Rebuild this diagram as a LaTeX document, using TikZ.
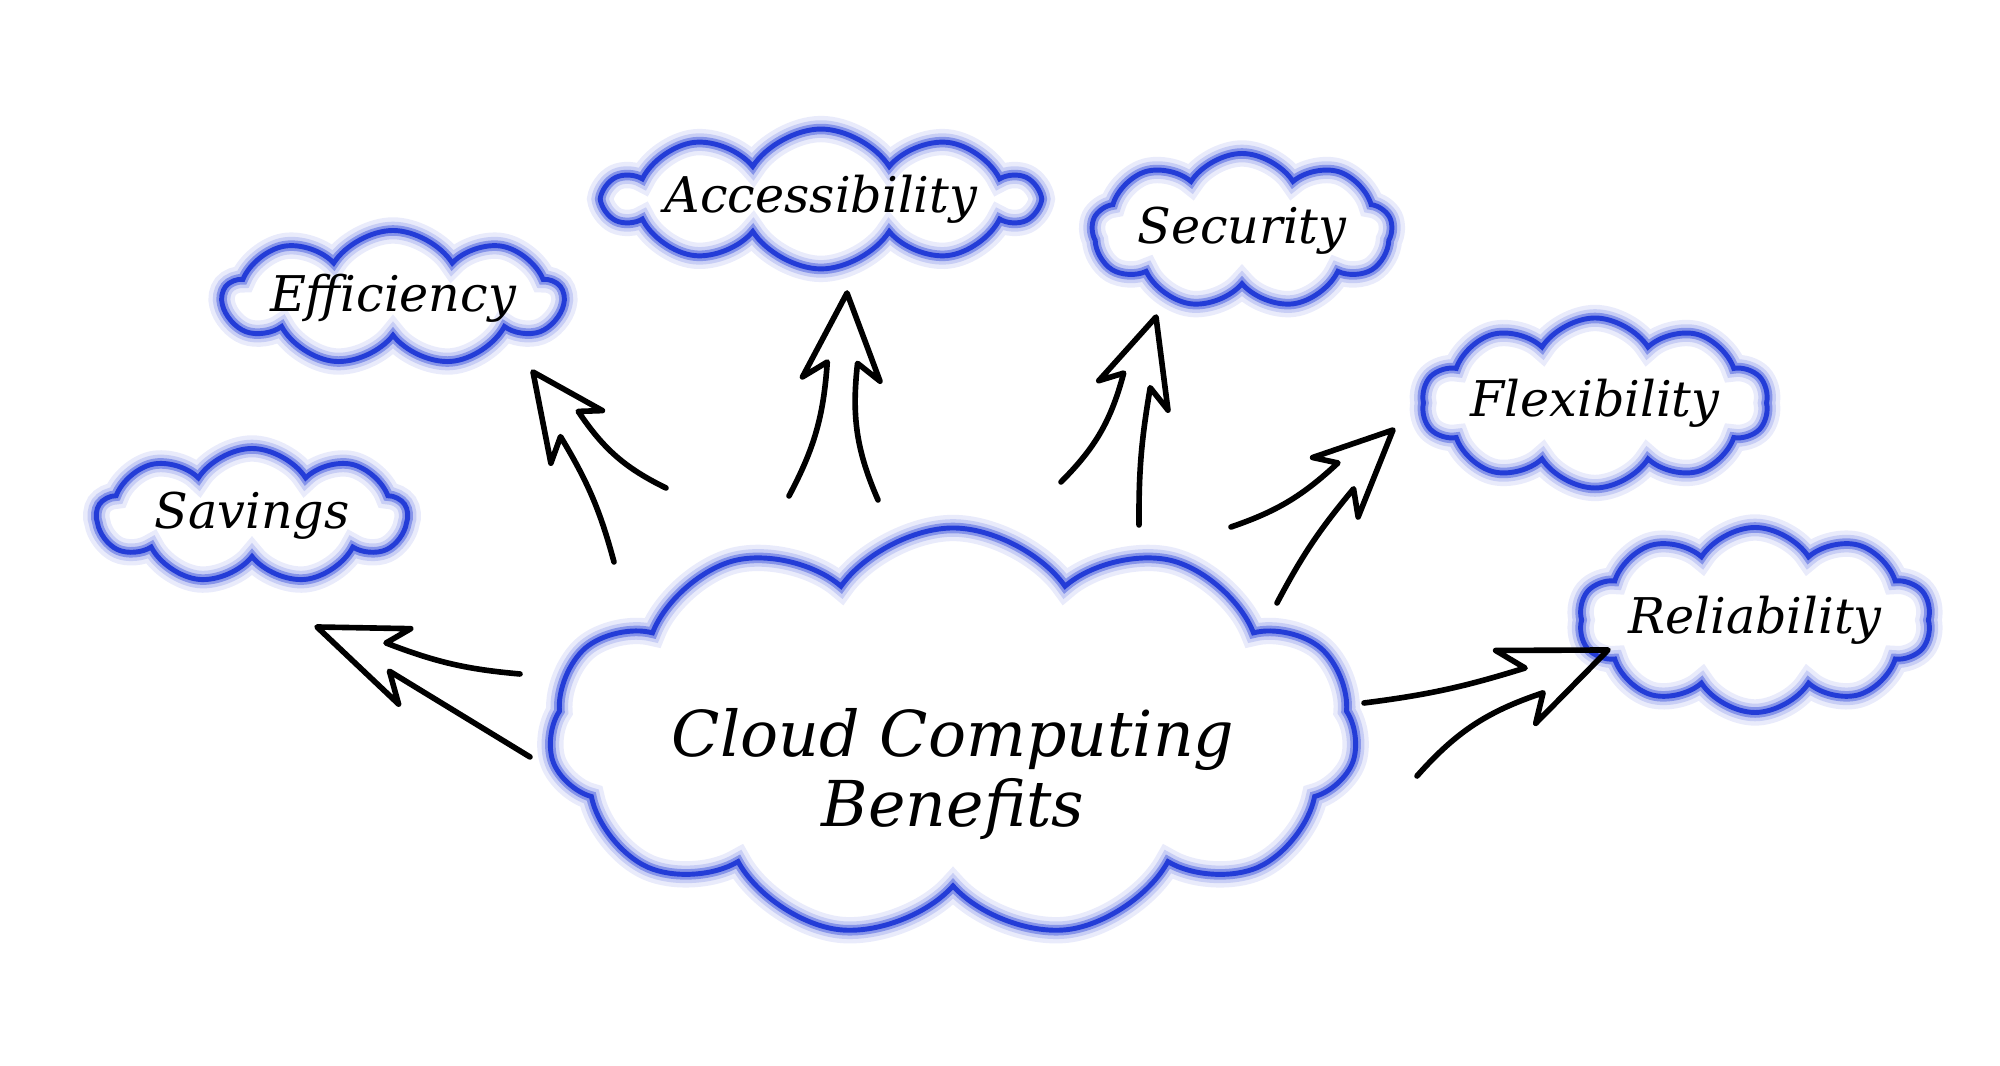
\documentclass[tikz,border=0pt]{standalone}
\usepackage{fontspec}
\setmainfont{DejaVu Serif}
\usetikzlibrary{shapes.symbols,calc}
\definecolor{cloudblue}{RGB}{35,60,215}
\tikzset{
  puff/.style={cloud, cloud ignores aspect, cloud puffs=9, cloud puff arc=115,
    inner sep=0pt, draw=cloudblue, line width=1.4pt,
    font=\itshape\fontsize{14}{16}\selectfont,
    preaction={draw=cloudblue!10, line width=7.5pt},
    preaction={draw=cloudblue!25, line width=5pt},
    preaction={draw=cloudblue!55, line width=3pt}},
  sketch/.style={line width=1.6pt, line cap=round, line join=round}
}
% hollow hand-drawn arrow: left tail, right tail, tip, bends of the two shafts
\newcommand{\benefitarrow}[5]{%
  \draw[sketch] (#1) to[bend left=#4] ($(#3)!0.34!(#1)$) -- ($(#3)!0.45!-12:(#1)$)
    -- (#3) -- ($(#3)!0.45!12:(#2)$) -- ($(#3)!0.34!(#2)$) to[bend left=#5] (#2);}
\begin{document}
\begin{tikzpicture}
\useasboundingbox (0,0) rectangle (20,10.66);

% clouds
\node[puff, cloud puffs=11, cloud puff arc=110, minimum width=7.9cm, minimum height=4.1cm,
  font=\itshape\fontsize{18}{20}\selectfont, align=center] (benefits) at (9.53,3.33)
  {\rule{0pt}{1.3cm}Cloud Computing\\Benefits};
\node[puff, minimum width=3.1cm, minimum height=1.35cm] (savings) at (2.52,5.50) {Savings};
\node[puff, minimum width=3.2cm, minimum height=1.35cm] (efficiency) at (3.93,7.68) {Efficiency};
\node[puff, cloud puffs=10, minimum width=3.65cm, minimum height=1.25cm] (access) at (8.21,8.67) {Accessibility};
\node[puff, minimum width=3.0cm, minimum height=1.55cm] (security) at (12.42,8.35) {Security};
\node[puff, cloud puffs=10, minimum width=3.2cm, minimum height=1.7cm] (flex) at (15.95,6.63) {Flexibility};
\node[puff, cloud puffs=10, minimum width=3.25cm, minimum height=1.85cm] (reliab) at (17.55,4.46) {Reliability};

% arrow ends
\path (5.30,3.09) coordinate (S1) (5.20,3.92) coordinate (S2) (3.17,4.39) coordinate (St)
  (6.14,5.04) coordinate (E1) (6.66,5.78) coordinate (E2) (5.33,6.94) coordinate (Et)
  (7.89,5.70) coordinate (A1) (8.78,5.66) coordinate (A2) (8.47,7.73) coordinate (At)
  (10.61,5.84) coordinate (C1) (11.39,5.41) coordinate (C2) (11.56,7.49) coordinate (Ct)
  (12.31,5.39) coordinate (F1) (12.77,4.63) coordinate (F2) (13.93,6.36) coordinate (Ft)
  (13.64,3.63) coordinate (R1) (14.17,2.90) coordinate (R2) (16.08,4.16) coordinate (Rt);

\benefitarrow{S1}{S2}{St}{0}{-8}
\benefitarrow{E1}{E2}{Et}{-8}{-15}
\benefitarrow{A1}{A2}{At}{-12}{-15}
\benefitarrow{C1}{C2}{Ct}{-15}{-5}
\benefitarrow{F1}{F2}{Ft}{-12}{-6}
\benefitarrow{R1}{R2}{Rt}{-5}{-15}
\end{tikzpicture}
\end{document}
